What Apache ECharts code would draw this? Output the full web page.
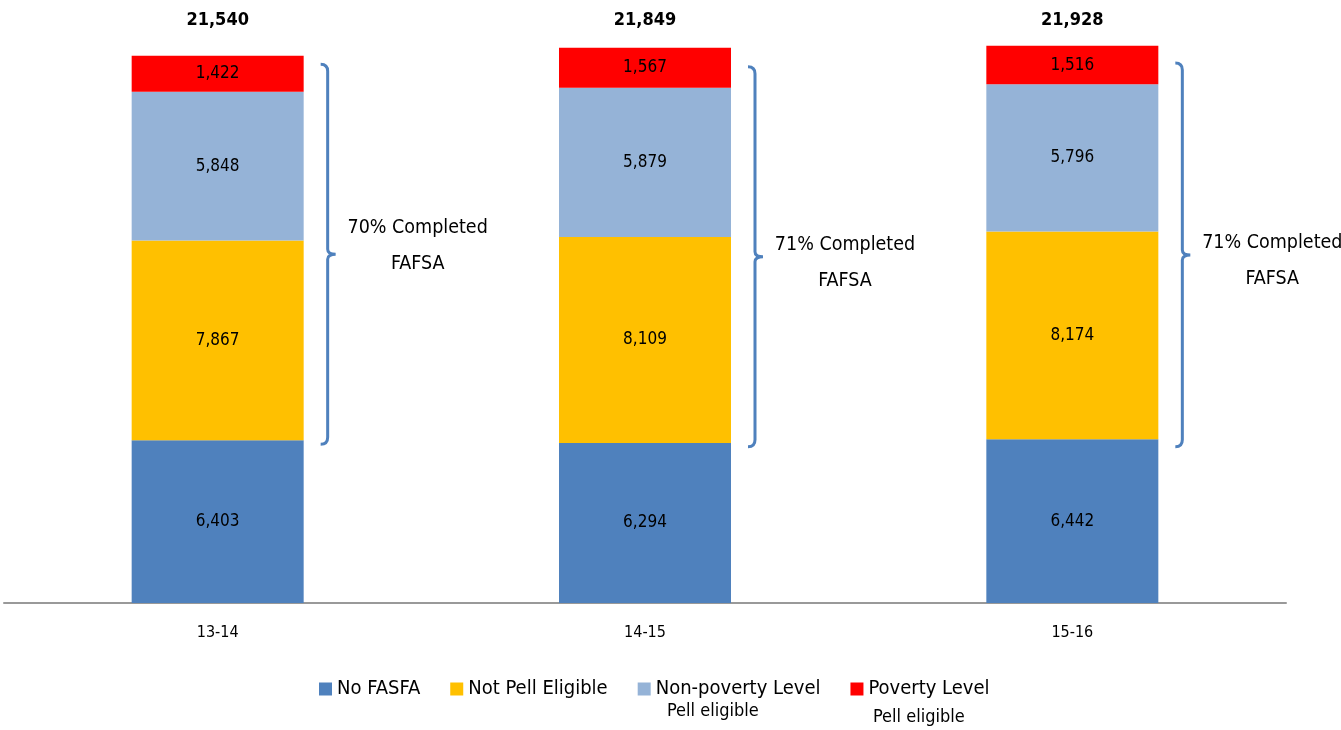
<!DOCTYPE html>
<html>
<head>
<meta charset="utf-8">
<script src="https://cdn.jsdelivr.net/npm/echarts@6/dist/echarts.min.js"></script>
<style>
  html, body { margin: 0; padding: 0; background: #fff; }
  #chart { width: 1341px; height: 730px; }
</style>
</head>
<body>
<div id="chart"></div>
<script>
const FONT = "'Liberation Sans Narrow', 'DejaVu Sans Condensed', sans-serif";

const categories = ["13-14", "14-15", "15-16"];
const noFafsa = [6403, 6294, 6442];
const notPell = [7867, 8109, 8174];
const nonPoverty = [5848, 5879, 5796];
const poverty = [1422, 1567, 1516];
const completedPct = ["70%", "71%", "71%"];
// range the brackets cover (approx)
const bracketLow = [6250, 6150, 6150];
const bracketHigh = [21200, 21100, 21250];

const totals = categories.map((c, i) => noFafsa[i] + notPell[i] + nonPoverty[i] + poverty[i]);
const fmt = (v) => Number(v).toLocaleString("en-US");

const chart = echarts.init(document.getElementById("chart"));

function barSeries(name, data, color) {
  return {
    name: name,
    type: "bar",
    stack: "total",
    barWidth: 172,
    data: data,
    itemStyle: { color: color },
    label: {
      show: true,
      position: "inside",
      color: "#000",
      fontSize: 17,
      fontFamily: FONT,
      formatter: (p) => fmt(p.value),
    },
  };
}

function renderBracket(params, api) {
  const i = api.value(0);
  const top = api.coord([i, api.value(2)]);
  const bot = api.coord([i, api.value(1)]);
  const x = top[0] + 110;
  const yT = top[1];
  const yB = bot[1];
  const yM = (yT + yB) / 2;
  const path =
    `M ${x - 7} ${yT} Q ${x} ${yT} ${x} ${yT + 7} L ${x} ${yM - 5} ` +
    `Q ${x} ${yM} ${x + 8} ${yM} Q ${x} ${yM} ${x} ${yM + 5} ` +
    `L ${x} ${yB - 7} Q ${x} ${yB} ${x - 7} ${yB}`;
  const dy = [-8, 6, 6][i];
  return {
    type: "group",
    children: [
      {
        type: "path",
        shape: { pathData: path },
        style: { stroke: "#4F81BD", lineWidth: 3, fill: "none" },
      },
      {
        type: "text",
        style: {
          text: completedPct[i] + " Completed\nFAFSA",
          x: x + 90,
          y: yM + dy,
          align: "center",
          verticalAlign: "middle",
          fontSize: 19.5,
          lineHeight: 36,
          fontFamily: FONT,
          fill: "#000",
        },
      },
    ],
  };
}

chart.setOption({
  animation: false,
  grid: { left: 4, right: 55, top: 44, bottom: 127 },
  legend: {
    data: ["No FASFA", "Not Pell Eligible", "Non-poverty Level", "Poverty Level"],
    left: 314,
    top: 674,
    itemWidth: 13,
    itemHeight: 13,
    itemGap: 30,
    icon: "rect",
    textStyle: { fontSize: 20, fontFamily: FONT, color: "#000" },
  },
  xAxis: [
    {
      type: "category",
      data: categories,
      axisLine: { lineStyle: { color: "#999", width: 2 } },
      axisTick: { show: false },
      axisLabel: { margin: 22, fontSize: 16, fontFamily: FONT, color: "#000" },
    },
    {
      type: "category",
      position: "top",
      data: totals.map(fmt),
      axisLine: { show: false },
      axisTick: { show: false },
      axisLabel: { margin: 15, fontSize: 18, fontWeight: "bold", fontFamily: FONT, color: "#000" },
    },
  ],
  yAxis: {
    type: "value",
    min: 0,
    max: 22000,
    show: false,
    splitLine: { show: false },
  },
  series: [
    barSeries("No FASFA", noFafsa, "#4F81BD"),
    barSeries("Not Pell Eligible", notPell, "#FFC000"),
    barSeries("Non-poverty Level", nonPoverty, "#95B3D7"),
    barSeries("Poverty Level", poverty, "#FF0000"),
    {
      type: "custom",
      renderItem: renderBracket,
      clip: false,
      silent: true,
      encode: { x: 0, y: [1, 2] },
      data: categories.map((c, i) => [i, bracketLow[i], bracketHigh[i]]),
    },
  ],
  graphic: [
    {
      type: "text",
      left: 667,
      top: 702,
      style: { text: "Pell eligible", fontSize: 18, fontFamily: FONT, fill: "#000" },
    },
    {
      type: "text",
      left: 873,
      top: 708,
      style: { text: "Pell eligible", fontSize: 18, fontFamily: FONT, fill: "#000" },
    },
  ],
});
</script>
</body>
</html>
